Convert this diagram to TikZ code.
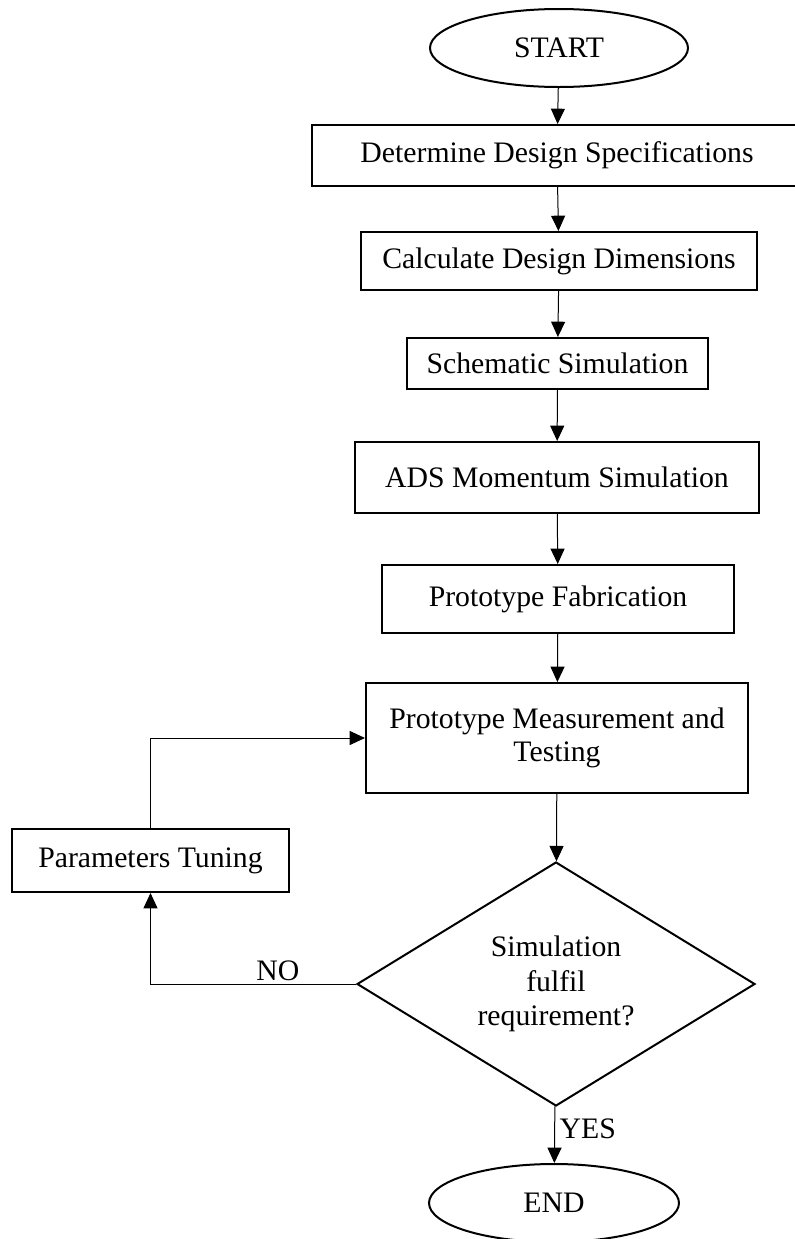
\documentclass[tikz,border=0pt]{standalone}
\usepackage{fontspec}
\setmainfont{Liberation Serif}
\usetikzlibrary{shapes.geometric,arrows.meta}
\begin{document}
\begin{tikzpicture}[x=0.75pt,y=-0.75pt,font=\fontsize{22.3}{25}\selectfont]
    \tikzset{block/.style = {shape=rectangle,draw,line width=1.5pt,align=center}}
    \tikzset{terminal/.style = {shape=ellipse,draw,line width=1.5pt,minimum height=58.5pt}}
    \tikzset{decision/.style = {shape=diamond,draw,line width=1.5pt,align=center,aspect=1.63,inner sep=0pt,font=\fontsize{22.3}{26}\selectfont}}
    \tikzset{flow/.style = {-{Triangle[length=11.5pt,width=10.5pt]},line width=0.75pt}}
    \useasboundingbox (0,0) rectangle (794,1239);
    % main column
    \node[terminal,minimum width=193.5pt] (start) at (559,48) {START};
    \node[block,minimum width=367.5pt,minimum height=45.75pt] (spec) at (557,155.5) {Determine Design Specifications};
    \node[block,minimum width=297pt,minimum height=43.5pt] (calc) at (559,261) {Calculate Design Dimensions};
    \node[block,minimum width=225.75pt,minimum height=38.25pt] (schem) at (557.5,363.5) {Schematic Simulation};
    \node[block,minimum width=303pt,minimum height=53.25pt] (ads) at (557,477.5) {ADS Momentum Simulation};
    \node[block,minimum width=264pt,minimum height=51pt] (fab) at (558,599) {Prototype Fabrication};
    \node[block,minimum width=286.5pt,minimum height=82.5pt] (meas) at (557,738) {Prototype Measurement and\\Testing};
    \node[decision,minimum width=298.5pt,minimum height=183pt] (check) at (556,984) {Simulation\\fulfil\\requirement?};
    \node[terminal,minimum width=187.5pt] (end) at (554,1203) {END};
    % loop on the left
    \node[block,minimum width=207.75pt,minimum height=47.25pt] (tune) at (150.5,860.5) {Parameters Tuning};
    % edges
    \draw[flow] (start) -- (spec);
    \draw[flow] (spec) -- (calc);
    \draw[flow] (calc) -- (schem);
    \draw[flow] (schem) -- (ads);
    \draw[flow] (ads) -- (fab);
    \draw[flow] (fab) -- (meas);
    \draw[flow] (meas) -- (check);
    \draw[flow] (check) -- node[right,pos=0.4] (yes) {YES} (end);
    \draw[flow] (check.west) -| node[above,pos=0.19,inner sep=2pt] (no) {NO} (tune.south);
    \draw[flow] (tune.north) |- (meas.west);
\end{tikzpicture}
\end{document}
